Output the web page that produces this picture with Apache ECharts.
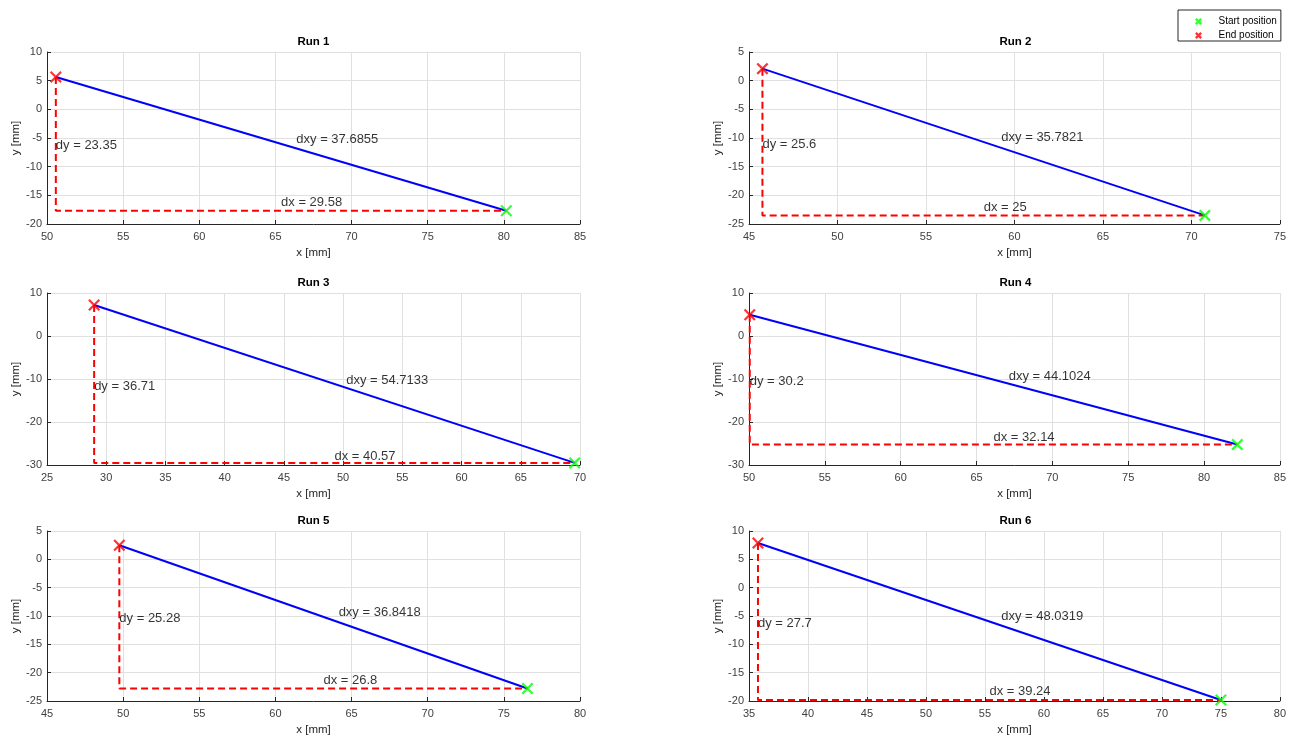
<!DOCTYPE html>
<html><head><meta charset="utf-8">
<script src="https://cdn.jsdelivr.net/npm/echarts@6/dist/echarts.min.js"></script>
<style>html,body{margin:0;padding:0;background:#fff}#c{width:1289px;height:737px}</style>
</head><body><div id="c"></div>
<script>
// ---- data ----
const runs = ['Run 1', 'Run 2', 'Run 3', 'Run 4', 'Run 5', 'Run 6'];
const startX = [80.16, 70.76, 69.55, 82.19, 76.55, 75.00];
const startY = [-17.70, -23.50, -29.51, -25.25, -22.80, -19.82];
const endX   = [50.58, 45.76, 28.98, 50.05, 49.75, 35.76];
const endY   = [5.65, 2.10, 7.20, 4.95, 2.48, 7.88];
const dxText  = ['29.58', '25', '40.57', '32.14', '26.8', '39.24'];
const dyText  = ['23.35', '25.6', '36.71', '30.2', '25.28', '27.7'];
const dxyText = ['37.6855', '35.7821', '54.7133', '44.1024', '36.8418', '48.0319'];
const xMin = [50, 45, 25, 50, 45, 35];
const xMax = [85, 75, 70, 85, 80, 80];
const xStep = [5, 5, 5, 5, 5, 5];
const yMin = [-20, -25, -30, -30, -25, -20];
const yMax = [10, 5, 10, 10, 5, 10];
const yStep = [5, 5, 10, 10, 5, 5];
const legendNames = ['Start position', 'End position'];

// ---- layout / style ----
const FONT = '"Liberation Sans", Arial, Helvetica, sans-serif';
const X_PATH = 'path://M0,13L13,0L50,37L87,0L100,13L63,50L100,87L87,100L50,63L13,100L0,87L37,50Z';
const X_LEG = 'path://M0,24L24,0L50,26L76,0L100,24L74,50L100,76L76,100L50,74L24,100L0,76L26,50Z';
const colLeft = [47, 749];
const rowTop = [52, 293, 531];
const W = 533, H = 172;
const AX = '#262626';

const grids = [], xAxes = [], yAxes = [], series = [], graphics = [];
for (let i = 0; i < runs.length; i++) {
  const r = Math.floor(i / 2), c = i % 2;
  grids.push({left: colLeft[c], top: rowTop[r], width: W, height: H, containLabel: false});
  graphics.push({
    type: 'text', x: colLeft[c] + W / 2, y: rowTop[r] - 10, silent: true,
    style: {text: runs[i], x: 0, y: 0, align: 'center', verticalAlign: 'middle',
            textAlign: 'center', textVerticalAlign: 'middle',
            font: 'bold 11.5px ' + FONT, fill: '#000'}
  });
  const common = {
    type: 'value', gridIndex: i, nameLocation: 'middle',
    nameTextStyle: {fontSize: 11.5, color: AX, fontFamily: FONT},
    axisLine: {show: true, onZero: false, lineStyle: {color: AX, width: 1}},
    axisTick: {show: true, inside: true, length: 4, lineStyle: {color: AX, width: 1}},
    splitLine: {show: true, lineStyle: {color: '#e0e0e0', width: 1}},
  };
  xAxes.push(Object.assign({}, common, {
    min: xMin[i], max: xMax[i], interval: xStep[i], name: 'x [mm]', nameGap: 23,
    axisLabel: {fontSize: 11, color: '#404040', margin: 7, fontFamily: FONT, showMinLabel: true, showMaxLabel: true}
  }));
  yAxes.push(Object.assign({}, common, {
    min: yMin[i], max: yMax[i], interval: yStep[i], name: 'y [mm]', nameGap: 20,
    axisLabel: {fontSize: 11, color: '#404040', margin: 5, fontFamily: FONT, showMinLabel: true, showMaxLabel: true}
  }));

  const ex = endX[i], ey = endY[i], sx = startX[i], sy = startY[i];
  const mx = (ex + sx) / 2, my = (ey + sy) / 2;
  series.push({
    type: 'line', xAxisIndex: i, yAxisIndex: i, silent: true, symbol: 'none', z: 2,
    data: [[ex, ey], [sx, sy]], lineStyle: {color: '#0000ff', width: 2}
  });
  series.push({
    type: 'line', xAxisIndex: i, yAxisIndex: i, silent: true, symbol: 'none', z: 2,
    data: [[ex, ey], [ex, sy], [sx, sy]], lineStyle: {color: '#ff0000', width: 2, type: [7, 4]}
  });
  series.push({
    type: 'scatter', name: legendNames[0], xAxisIndex: i, yAxisIndex: i, silent: true, z: 5,
    symbol: X_PATH, symbolSize: 12, itemStyle: {color: '#00ff00'}, data: [[sx, sy]]
  });
  series.push({
    type: 'scatter', name: legendNames[1], xAxisIndex: i, yAxisIndex: i, silent: true, z: 5,
    symbol: X_PATH, symbolSize: 12, itemStyle: {color: '#ff0000'}, data: [[ex, ey]]
  });
  const lbl = (txt, dy) => ({show: true, formatter: txt, position: 'inside', align: 'left',
    verticalAlign: 'middle', offset: [0, dy], fontSize: 13, color: '#000', fontFamily: FONT});
  series.push({
    type: 'scatter', xAxisIndex: i, yAxisIndex: i, silent: true, z: 6, symbol: 'rect', symbolSize: 1,
    itemStyle: {color: 'rgba(255,255,255,0)'},
    data: [
      {value: [mx + 1, my + 1], label: lbl('dxy = ' + dxyText[i], 1)},
      {value: [ex, my], label: lbl('dy = ' + dyText[i], 2)},
      {value: [mx, sy + 1], label: lbl('dx = ' + dxText[i], -2.5)}
    ]
  });
}

const chart = echarts.init(document.getElementById('c'), null, {renderer: 'canvas'});
chart.setOption({
  animation: false,
  backgroundColor: '#fff',
  grid: grids, xAxis: xAxes, yAxis: yAxes, series: series,
  graphic: graphics,
  legend: {
    left: 1178, top: 10, orient: 'vertical', selectedMode: false,
    data: legendNames.map(n => ({name: n, icon: X_LEG})),
    itemWidth: 30, itemHeight: 7, itemGap: 3, symbolKeepAspect: true,
    padding: [6, 4, 0, 17], borderColor: AX, borderWidth: 1, backgroundColor: '#fff',
    textStyle: {fontSize: 10, color: '#000', lineHeight: 11, fontFamily: FONT}
  }
});
</script></body></html>
